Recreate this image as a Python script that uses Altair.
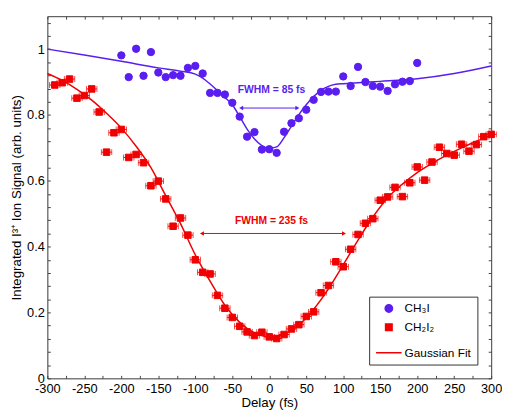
import altair as alt
import pandas as pd

# ---------------- data ----------------
ch3i_delay = list(range(-200, 201, 10))
ch3i_signal = [0.981, 0.915, 1.001, 0.919, 0.991, 0.929, 0.915, 0.921, 0.919, 0.943,
               0.949, 0.926, 0.867, 0.867, 0.862, 0.837, 0.795, 0.734, 0.748, 0.695,
               0.696, 0.685, 0.749, 0.775, 0.790, 0.816, 0.846, 0.870, 0.871, 0.871,
               0.917, 0.888, 0.946, 0.900, 0.888, 0.886, 0.873, 0.893, 0.901, 0.903,
               0.958]

ch2i2_delay = list(range(-290, 301, 10))
ch2i2_signal = [0.891, 0.898, 0.909, 0.851, 0.859, 0.879, 0.809, 0.687, 0.746, 0.756,
                0.671, 0.680, 0.655, 0.585, 0.599, 0.545, 0.462, 0.487, 0.435, 0.360,
                0.322, 0.317, 0.252, 0.213, 0.185, 0.158, 0.141, 0.130, 0.140, 0.126,
                0.121, 0.133, 0.150, 0.163, 0.188, 0.202, 0.260, 0.282, 0.354, 0.339,
                0.392, 0.437, 0.471, 0.485, 0.541, 0.551, 0.580, 0.552, 0.594, 0.642,
                0.602, 0.657, 0.702, 0.683, 0.678, 0.711, 0.690, 0.710, 0.734, 0.741]
ch2i2_err_fs = 7

fit_ch3i_delay = [-300, -250, -200, -150, -120, -100, -90, -80, -70, -60, -50, -40, -30,
                  -20, -10, 0, 10, 20, 30, 40, 50, 60, 70, 80, 90, 100, 120, 150, 200,
                  250, 300]
fit_ch3i_signal = [1.000, 0.982, 0.963, 0.943, 0.933, 0.924, 0.912, 0.894, 0.874, 0.853,
                   0.831, 0.795, 0.757, 0.727, 0.707, 0.699, 0.703, 0.731, 0.766, 0.801,
                   0.831, 0.856, 0.875, 0.887, 0.893, 0.895, 0.898, 0.902, 0.910, 0.926,
                   0.949]

fit_ch2i2_delay = [-300, -280, -260, -240, -220, -200, -180, -160, -140, -120, -100, -80,
                   -60, -40, -20, 0, 20, 40, 60, 80, 100, 120, 140, 160, 180, 200, 220,
                   240, 260, 280, 300]
fit_ch2i2_signal = [0.926, 0.905, 0.878, 0.845, 0.805, 0.760, 0.705, 0.640, 0.555, 0.470,
                    0.375, 0.295, 0.222, 0.170, 0.138, 0.126, 0.134, 0.162, 0.210, 0.272,
                    0.345, 0.420, 0.490, 0.548, 0.590, 0.625, 0.653, 0.678, 0.700, 0.720,
                    0.738]

S1, S2, S3 = "CH\u2083I", "CH\u2082I\u2082", "Gaussian Fit"
series_names = [S1, S2, S3]

ann_text = ["FWHM = 85 fs", "FWHM = 235 fs"]
ann_delay = [3, 3]
ann_signal = [0.875, 0.477]
arrow_from = [-38, -91]
arrow_to = [38, 101]
arrow_signal = [0.821, 0.440]

BLUE = "#5a1ef0"
RED = "#f00000"
FONT = "Liberation Sans"

# ---------------- tables ----------------
pts = pd.DataFrame({
    "delay": ch3i_delay + ch2i2_delay,
    "signal": ch3i_signal + ch2i2_signal,
    "series": [S1] * len(ch3i_delay) + [S2] * len(ch2i2_delay),
})
err = pd.DataFrame({"delay": ch2i2_delay, "signal": ch2i2_signal})
err["lo"] = err["delay"] - ch2i2_err_fs
err["hi"] = err["delay"] + ch2i2_err_fs
fit1 = pd.DataFrame({"delay": fit_ch3i_delay, "signal": fit_ch3i_signal})
fit2 = pd.DataFrame({"delay": fit_ch2i2_delay, "signal": fit_ch2i2_signal})
ann = pd.DataFrame({"text": ann_text, "delay": ann_delay, "signal": ann_signal,
                    "a0": arrow_from, "a1": arrow_to, "asig": arrow_signal,
                    "c": [BLUE, RED]})

xs = alt.Scale(domain=[-300, 300], nice=False, zero=False)
ys = alt.Scale(domain=[0, 1.1], nice=False, zero=False)
x_ticks = [-300 + 25 * i for i in range(25)]
y_ticks = [round(0.04 * i, 2) for i in range(28)]

AX = dict(grid=False, domainColor="#444", tickColor="#444", labelColor="black",
          titleColor="black", labelFont=FONT, titleFont=FONT, labelFontSize=13,
          titleFontSize=13.5, titleFontWeight="normal", labelOverlap=False,
          labelFlush=False, tickSize={"expr": "-3"})

x_bottom = alt.Axis(orient="bottom", values=x_ticks, title="Delay (fs)",
                    labelExpr="datum.value % 50 === 0 ? '' + datum.value : ''",
                    labelPadding=7, titlePadding=1, **AX)
y_left = alt.Axis(orient="left", values=y_ticks,
                  title="Integrated I\u00b3\u207a Ion Signal (arb. units)",
                  labelExpr="abs(datum.value*5 - round(datum.value*5)) < 0.001 ? format(datum.value, '~g') : ''",
                  labelPadding=6, titlePadding=3, **AX)
x_top = alt.Axis(orient="top", values=x_ticks, title=None, labels=False, **AX)
y_right = alt.Axis(orient="right", values=y_ticks, title=None, labels=False, **AX)

legend = alt.Legend(
    title=None, orient="none", legendX=327, legendY=285,
    strokeColor="#333", fillColor="white", padding=6,
    labelFont=FONT, labelFontSize=12, labelColor="black",
    rowPadding=5, labelOffset=2, symbolStrokeWidth=1.5,
)
leg_domain = series_names
leg_range_c = [BLUE, RED, RED]

fit_red = alt.Chart(fit2).mark_line(color=RED, strokeWidth=1.5, interpolate="monotone").encode(
    x=alt.X("delay:Q", scale=xs, axis=None),
    y=alt.Y("signal:Q", scale=ys, axis=None),
)
fit_blue = alt.Chart(fit1).mark_line(color=BLUE, strokeWidth=1.5, interpolate="monotone").encode(
    x=alt.X("delay:Q", scale=xs, axis=x_top),
    y=alt.Y("signal:Q", scale=ys, axis=y_right),
)
err_bar = alt.Chart(err).mark_rule(color=RED, strokeWidth=1).encode(
    x=alt.X("lo:Q", scale=xs, axis=None), x2="hi:Q",
    y=alt.Y("signal:Q", scale=ys, axis=None),
)
cap_lo = alt.Chart(err).mark_tick(color=RED, orient="vertical", size=6, thickness=1).encode(
    x=alt.X("lo:Q", scale=xs, axis=None), y=alt.Y("signal:Q", scale=ys, axis=None),
)
cap_hi = alt.Chart(err).mark_tick(color=RED, orient="vertical", size=6, thickness=1).encode(
    x=alt.X("hi:Q", scale=xs, axis=None), y=alt.Y("signal:Q", scale=ys, axis=None),
)
points = alt.Chart(pts).mark_point(filled=True, opacity=1, strokeWidth=1).encode(
    x=alt.X("delay:Q", scale=xs, axis=x_bottom),
    y=alt.Y("signal:Q", scale=ys, axis=y_left),
    color=alt.Color("series:N", scale=alt.Scale(domain=leg_domain, range=leg_range_c), legend=legend),
    stroke=alt.Stroke("series:N", scale=alt.Scale(domain=leg_domain, range=leg_range_c), legend=legend),
    shape=alt.Shape("series:N", scale=alt.Scale(domain=leg_domain, range=["circle", "square", "stroke"]), legend=legend),
    size=alt.Size("series:N", scale=alt.Scale(type="ordinal", domain=leg_domain, range=[56, 44, 676]), legend=legend),
)
arrow_line = alt.Chart(ann).mark_rule(strokeWidth=1).encode(
    x=alt.X("a0:Q", scale=xs, axis=None), x2="a1:Q",
    y=alt.Y("asig:Q", scale=ys, axis=None),
    color=alt.Color("c:N", scale=None),
)
head_l = alt.Chart(ann).mark_point(shape="triangle-left", filled=True, size=22, opacity=1).encode(
    x=alt.X("a0:Q", scale=xs, axis=None), y=alt.Y("asig:Q", scale=ys, axis=None),
    color=alt.Color("c:N", scale=None),
)
head_r = alt.Chart(ann).mark_point(shape="triangle-right", filled=True, size=22, opacity=1).encode(
    x=alt.X("a1:Q", scale=xs, axis=None), y=alt.Y("asig:Q", scale=ys, axis=None),
    color=alt.Color("c:N", scale=None),
)
labels = alt.Chart(ann).mark_text(font=FONT, fontSize=10.5, fontWeight="bold", baseline="middle", align="center").encode(
    x=alt.X("delay:Q", scale=xs, axis=None), y=alt.Y("signal:Q", scale=ys, axis=None),
    text="text:N", color=alt.Color("c:N", scale=None),
)

chart = alt.layer(
    fit_red, fit_blue, err_bar, cap_lo, cap_hi, points, arrow_line, head_l, head_r, labels
).resolve_axis(x="independent", y="independent").properties(
    width=451, height=368,
    autosize=alt.AutoSizeParams(type="none"),
    padding={"left": 40, "top": 5, "right": 11, "bottom": 38},
).configure_view(stroke="#444").configure(background="white")

chart.save("out.html", embed_options={"renderer": "svg", "actions": False})
